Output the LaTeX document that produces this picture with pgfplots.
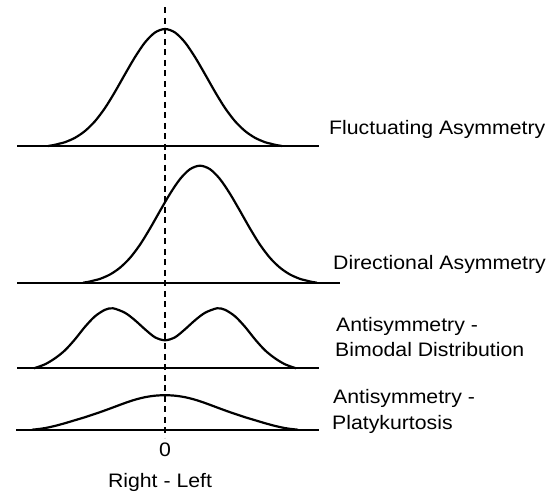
\documentclass[border=0pt]{standalone}
\usepackage{fontspec}
\setmainfont{Liberation Sans}[FakeStretch=1.09]
\usepackage{pgfplots}
\pgfplotsset{compat=1.18}
\begin{document}
\fontsize{19.5bp}{25bp}\selectfont
\begin{tikzpicture}
\useasboundingbox (0,0) rectangle (554bp,492bp);
\begin{axis}[
  at={(0,0)}, anchor=south west,
  width=554bp, height=492bp, scale only axis,
  xmin=-165, xmax=389, ymin=0, ymax=492,
  hide axis, clip=false,
  cycle list={{black, no marks, line width=2.2bp}},
  every axis plot/.append style={black, no marks, line width=2.2bp, line join=round},
]
% baselines
\addplot[black, no marks] coordinates {(-148,346) (154,346)};
\addplot[black, no marks] coordinates {(-148,209.3) (175,209.3)};
\addplot[black, no marks] coordinates {(-148,123.7) (154,123.7)};
\addplot[black, no marks] coordinates {(-149,62.3) (154,62.3)};
% Fluctuating asymmetry
\addplot[black, no marks, smooth, tension=0.5] coordinates {
(-117,346) (-111,347) (-105,348.5) (-100,349.8) (-90,354.2) (-80,361) (-70,370.8) (-60,384) (-50,400.2) (-40,417.8) (-30,434.9) (-20,449.6) (-10,459.5) (0,463)
(10,459.5) (20,449.6) (30,434.9) (40,417.8) (50,400.2) (60,384) (70,370.8) (80,361) (90,354.2) (100,349.8) (105,348.5) (111,347) (117,346)};
% Directional asymmetry
\addplot[black, no marks, smooth, tension=0.5] coordinates {
(-82,209.3) (-76,210.3) (-70,211.8) (-65,213.1) (-55,217.5) (-45,224.3) (-35,234.1) (-25,247.3) (-15,263.5) (-5,281.1) (5,298.2) (15,312.9) (25,322.8) (35,326.3)
(45,322.8) (55,312.9) (65,298.2) (75,281.1) (85,263.5) (95,247.3) (105,234.1) (115,224.3) (125,217.5) (135,213.1) (140,211.8) (146,210.3) (152,209.3)};
% Antisymmetry - bimodal
\addplot[black, no marks, smooth, tension=0.5] coordinates {
(-131,123.7) (-120,127.7) (-110,133.7) (-100,141.7) (-90,152.7) (-80,165.2) (-70,175.7) (-60,182.2) (-52,183.7) (-40,179.2) (-30,171.7) (-20,162.7) (-10,154.7) (0,151.7)
(10,154.7) (20,162.7) (30,171.7) (40,179.2) (52,183.7) (60,182.2) (70,175.7) (80,165.2) (90,152.7) (100,141.7) (110,133.7) (120,127.7) (131,123.7)};
% Antisymmetry - platykurtosis
\addplot[black, no marks, smooth, tension=0.5] coordinates {
(-133,62.3) (-128,62.8) (-120,63.9) (-110,66.1) (-100,68.8) (-90,71.8) (-80,74.8) (-70,78.1) (-60,81.6) (-50,85.3) (-40,89) (-30,92.3) (-20,94.8) (-10,96.3) (0,96.8)
(10,96.3) (20,94.8) (30,92.3) (40,89) (50,85.3) (60,81.6) (70,78.1) (80,74.8) (90,71.8) (100,68.8) (110,66.1) (120,63.9) (128,62.8) (133,62.3)};
% zero line
\addplot[black, no marks, line width=2bp, dash pattern=on 6bp off 4.5bp, line cap=butt] coordinates {(0,484.5) (0,54)};
% labels
\node[anchor=base west, inner sep=0pt] at (axis cs:164,357) {Fluctuating Asymmetry};
\node[anchor=base west, inner sep=0pt] at (axis cs:168,222) {Directional Asymmetry};
\node[anchor=base west, inner sep=0pt] at (axis cs:171,160.3) {Antisymmetry -};
\node[anchor=base west, inner sep=0pt] at (axis cs:170,135.3) {Bimodal Distribution};
\node[anchor=base west, inner sep=0pt] at (axis cs:168,88) {Antisymmetry -};
\node[anchor=base west, inner sep=0pt] at (axis cs:167,62) {Platykurtosis};
\node[anchor=base, inner sep=0pt] at (axis cs:0,35.3) {0};
\node[anchor=base, inner sep=0pt] at (axis cs:-5,5) {Right - Left};
\end{axis}
\end{tikzpicture}
\end{document}
